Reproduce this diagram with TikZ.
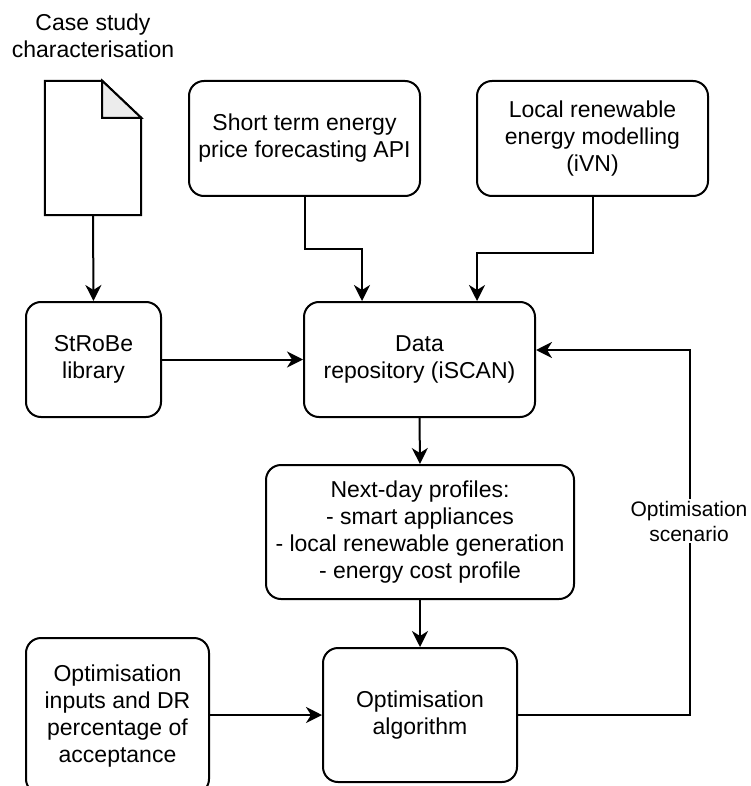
\documentclass[tikz,border=0pt]{standalone}
\usepackage{fontspec}
\setmainfont{Liberation Sans}
\usetikzlibrary{arrows.meta,calc}
\begin{document}
\begin{tikzpicture}[x=1pt,y=-1pt,
  txt/.style={align=center, inner sep=0pt, font=\fontsize{23}{27}\selectfont},
  box/.style={txt, draw, line width=2pt, rounded corners=15pt},
  arr/.style={line width=2pt, -{Stealth[length=16pt,width=16pt,inset=5pt]}},
  lbl/.style={align=center, fill=white, inner sep=2pt, font=\fontsize{21}{25}\selectfont}
]
\useasboundingbox (0,0) rectangle (750,786);
\clip (0,0) rectangle (750,786);

% case study document
\node[txt] (casetitle) at (93,36) {Case study\\characterisation};
\node[minimum width=96pt, minimum height=134pt, inner sep=0pt] (doc) at (93,148) {};
\draw[line width=2pt, line join=miter]
  (doc.north west) -- ([xshift=-39pt]doc.north east)
  -- ([yshift=-37pt]doc.north east) -- (doc.south east)
  -- (doc.south west) -- cycle;
\draw[line width=2pt, line join=miter, fill=gray!15]
  ([xshift=-39pt]doc.north east) -- ([xshift=-39pt,yshift=-37pt]doc.north east)
  -- ([yshift=-37pt]doc.north east) -- cycle;

% process boxes
\node[box, minimum width=135pt, minimum height=115pt] (strobe) at (93.5,359.5) {StRoBe\\library};
\node[box, minimum width=231pt, minimum height=115pt] (price) at (304.5,138.5) {Short term energy\\price forecasting API};
\node[box, minimum width=231pt, minimum height=115pt] (ivn) at (592.5,138.5) {Local renewable\\energy modelling\\(iVN)};
\node[box, minimum width=231pt, minimum height=115pt] (repo) at (419.5,359.5) {Data\\repository (iSCAN)};
\node[box, minimum width=308pt, minimum height=134pt] (nextday) at (420,532) {Next-day profiles:\\- smart appliances\\- local renewable generation\\- energy cost profile};
\node[box, minimum width=194pt, minimum height=134pt] (algo) at (420,715) {Optimisation\\algorithm};
\node[box, minimum width=183pt, minimum height=156pt] (inputs) at (117.5,716) {Optimisation\\inputs and DR\\percentage of\\acceptance};

% connectors
\draw[arr] (doc.south) -- (strobe.north);
\draw[arr] (strobe.east) -- (strobe.east -| repo.west);
\draw[arr] (price.south) -- (price.south |- 0,249) -| ([xshift=-57.5pt]repo.north);
\draw[arr] (ivn.south) -- (ivn.south |- 0,253) -| ([xshift=57.5pt]repo.north);
\draw[arr] (repo.south) -- (nextday.north);
\draw[arr] (nextday.south) -- (algo.north);
\draw[arr] (inputs.east |- algo.west) -- (algo.west);
\draw[arr] (algo.east) -- ++(172,0) |- ([yshift=9.5pt]repo.east);
\node[lbl] (fblabel) at (689,521) {Optimisation\\scenario};
\end{tikzpicture}
\end{document}
